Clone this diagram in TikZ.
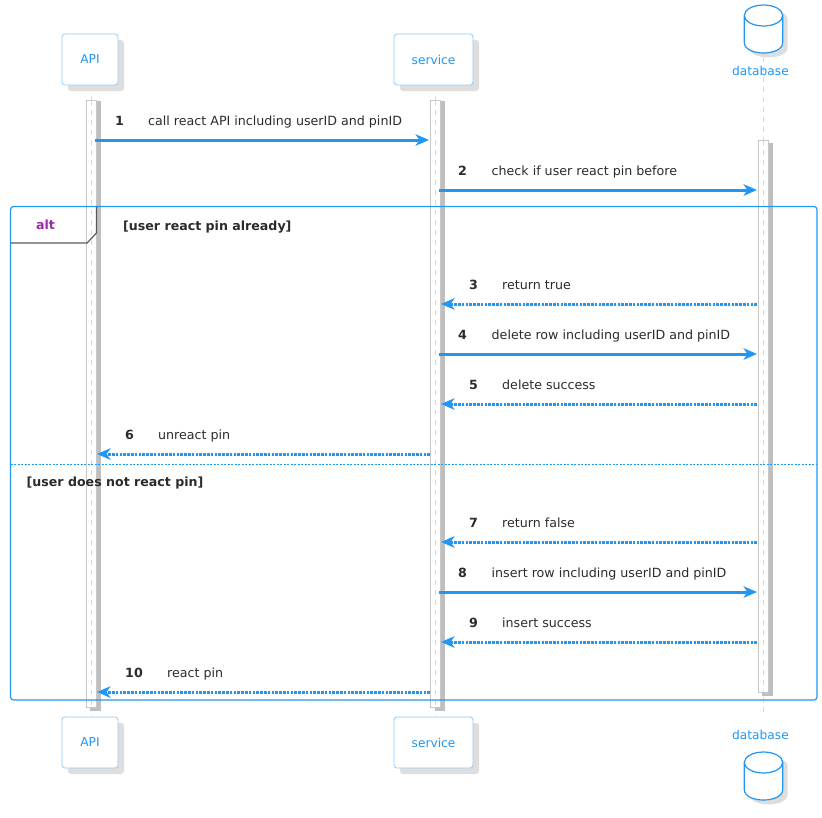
\documentclass[tikz,border=0pt]{standalone}
\usepackage{fontspec}
\setmainfont{DejaVu Sans}
\usetikzlibrary{arrows.meta,shadows}
\definecolor{flowblue}{HTML}{2196F3}
\definecolor{edgeblue}{HTML}{90CAF9}
\definecolor{altpurple}{HTML}{9C27B0}
\definecolor{inktext}{HTML}{2B2B2B}

\tikzset{
    db drum/.pic={
        \fill[black!13,shift={(5,4.5)}] (-19.2,-13.5) -- (-19.2,13.5) .. controls (-19.2,27.5) and (19.2,27.5) .. (19.2,13.5)
            -- (19.2,-13.5) .. controls (19.2,-27.5) and (-19.2,-27.5) .. (-19.2,-13.5);
        \draw[draw=flowblue,fill=white,line width=1.2pt] (-19.2,-13.5) -- (-19.2,13.5) .. controls (-19.2,27.5) and (19.2,27.5) .. (19.2,13.5)
            -- (19.2,-13.5);
        \draw[draw=flowblue,fill=white,line width=1.2pt] (0,-13.5) ellipse [x radius=19.2pt,y radius=10.5pt];
    }
}

\begin{document}
\begin{tikzpicture}[x=1pt,y=-1pt,>={Stealth[length=13.5pt,width=11.5pt,inset=4pt]},
        lifeline/.style={draw=black!15,dash pattern=on 5pt off 5pt,line width=.7pt},
        actor box/.style={draw=edgeblue,fill=white,rounded corners=3pt,line width=.8pt,text=flowblue,
            minimum height=51pt,inner sep=0pt,font=\fontsize{12.2}{14}\selectfont,
            drop shadow={shadow xshift=6pt,shadow yshift=-6pt,fill=black!13,opacity=1}},
        db label/.style={text=flowblue,font=\fontsize{12.2}{14}\selectfont,inner sep=0pt},
        bar/.style={draw=black!22,fill=white,line width=.8pt},
        bar shadow/.style={fill=black!25},
        call/.style={->,draw=flowblue,line width=3pt},
        reply/.style={->,draw=flowblue,line width=3pt,dash pattern=on 2.6pt off 1.2pt},
        msg num/.style={anchor=base west,inner sep=0pt,text=inktext,font=\fontsize{12.65}{14}\selectfont\bfseries},
        msg text/.style={anchor=base west,inner sep=0pt,text=inktext,font=\fontsize{12.65}{14}\selectfont},
        guard/.style={anchor=base west,inner sep=0pt,text=inktext,font=\fontsize{12.6}{14}\selectfont\bfseries}]

        \useasboundingbox (0,0) rectangle (822,817);

        % lifelines
        \draw[lifeline] (91.5,86) -- (91.5,717);
        \draw[lifeline] (435,86) -- (435,717);
        \draw[lifeline] (763.5,57) -- (763.5,717);

        % activation bars
        \fill[bar shadow] (90,101) rectangle (100.8,711);
        \fill[bar shadow] (434.5,101) rectangle (444.5,711);
        \fill[bar shadow] (762,143) rectangle (772.8,695.5);
        \draw[bar] (86.5,100) rectangle (96.5,707);
        \draw[bar] (430.5,100) rectangle (440.5,707);
        \draw[bar] (758.5,140) rectangle (768.5,692);
        \draw[lifeline] (91.5,100) -- (91.5,707);
        \draw[lifeline] (435,100) -- (435,707);
        \draw[lifeline] (763.5,140) -- (763.5,692);

        % actors
        \node[actor box,minimum width=56pt] (apitop) at (90,59.5) {API};
        \node[actor box,minimum width=79pt] (servicetop) at (433.5,59.5) {service};
        \pic (dbtop) at (763.5,29) {db drum};
        \node[db label] (dbtoplabel) at (760.5,71) {database};
        \node[actor box,minimum width=56pt] (apibottom) at (90,742.5) {API};
        \node[actor box,minimum width=79pt] (servicebottom) at (433.5,742.5) {service};
        \node[db label] (dbbottomlabel) at (760.5,734.5) {database};
        \pic (dbbottom) at (763.5,776) {db drum};

        % ends of the messages
        \coordinate (api1) at (95,140);
        \coordinate (svc1) at (429,140);
        \coordinate (svc2) at (439,190);
        \coordinate (db2) at (757,190);
        \coordinate (db3) at (757,304);
        \coordinate (svc3) at (441,304);
        \coordinate (svc4) at (439,354);
        \coordinate (db4) at (757,354);
        \coordinate (db5) at (757,404);
        \coordinate (svc5) at (441,404);
        \coordinate (svc6) at (430,454);
        \coordinate (api6) at (97,454);
        \coordinate (db7) at (757,542);
        \coordinate (svc7) at (441,542);
        \coordinate (svc8) at (439,592);
        \coordinate (db8) at (757,592);
        \coordinate (db9) at (757,642);
        \coordinate (svc9) at (441,642);
        \coordinate (svc10) at (430,692);
        \coordinate (api10) at (97,692);

        \path
        (api1) edge[call] (svc1)
        (svc2) edge[call] (db2)
        (db3) edge[reply] (svc3)
        (svc4) edge[call] (db4)
        (db5) edge[reply] (svc5)
        (svc6) edge[reply] (api6)
        (db7) edge[reply] (svc7)
        (svc8) edge[call] (db8)
        (db9) edge[reply] (svc9)
        (svc10) edge[reply] (api10);

        % message labels
        \node[msg num] (num1) at (115,125) {1};
        \node[msg text] (text1) at (148,125) {call react API including userID and pinID};
        \node[msg num] (num2) at (458,175) {2};
        \node[msg text] (text2) at (491.5,175) {check if user react pin before};
        \node[msg num] (num3) at (469,289.5) {3};
        \node[msg text] (text3) at (502,289.5) {return true};
        \node[msg num] (num4) at (458,339.5) {4};
        \node[msg text] (text4) at (491.5,339.5) {delete row including userID and pinID};
        \node[msg num] (num5) at (469,389.5) {5};
        \node[msg text] (text5) at (502,389.5) {delete success};
        \node[msg num] (num6) at (125,439.5) {6};
        \node[msg text] (text6) at (158,439.5) {unreact pin};
        \node[msg num] (num7) at (469,527) {7};
        \node[msg text] (text7) at (502,527) {return false};
        \node[msg num] (num8) at (458,577) {8};
        \node[msg text] (text8) at (491.5,577) {insert row including userID and pinID};
        \node[msg num] (num9) at (469,627) {9};
        \node[msg text] (text9) at (502,627) {insert success};
        \node[msg num] (num10) at (125,677) {10};
        \node[msg text] (text10) at (167,677) {react pin};

        % alt frame
        \draw[draw=flowblue,line width=1.2pt,rounded corners=3pt] (10.5,206.5) rectangle (817,700);
        \draw[draw=black!65,line width=1.2pt] (10.5,243) -- (87,243) -- (96.5,233) -- (96.5,206.5);
        \draw[draw=flowblue,line width=.8pt,dash pattern=on 2pt off 1.5pt] (10.5,464) -- (817,464);
        \node[anchor=base,inner sep=0pt,text=altpurple,font=\fontsize{12.6}{14}\selectfont\bfseries] (altname) at (45.5,229) {alt};
        \node[guard] (guard1) at (123,230) {[user react pin already]};
        \node[guard] (guard2) at (26.5,486) {[user does not react pin]};
\end{tikzpicture}
\end{document}
